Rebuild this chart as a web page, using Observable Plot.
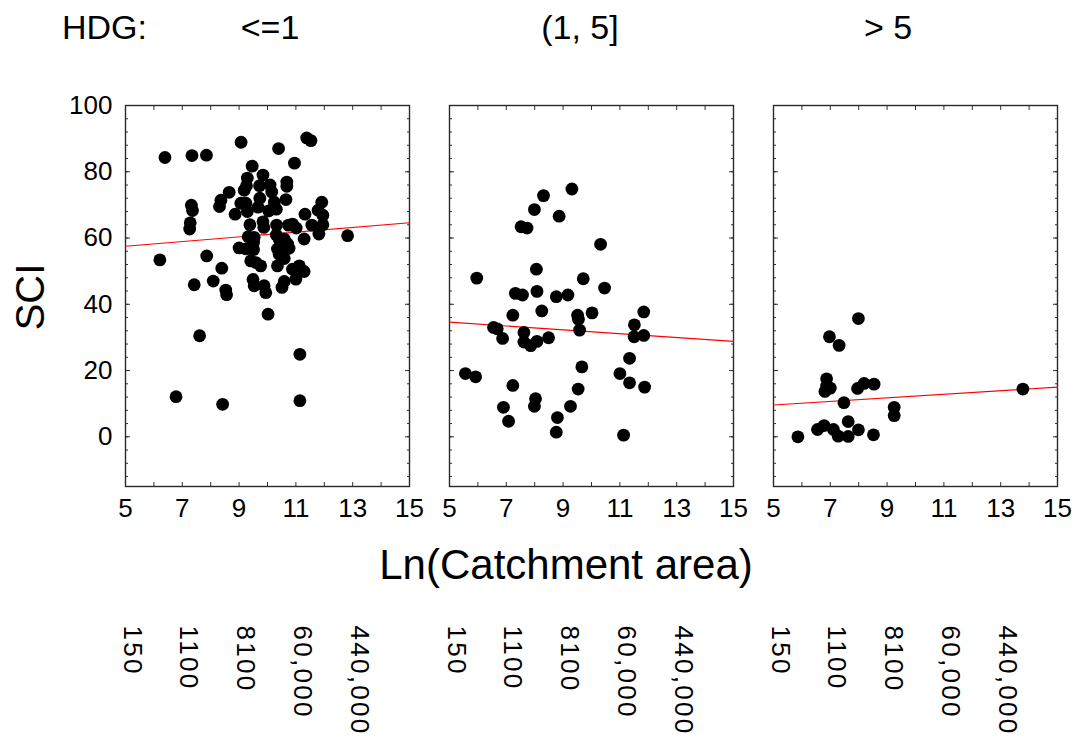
<!DOCTYPE html>
<html><head><meta charset="utf-8">
<script src="https://cdn.jsdelivr.net/npm/d3@7"></script>
<script src="https://cdn.jsdelivr.net/npm/@observablehq/plot@0.6"></script>
<style>body{margin:0;background:#fff;} #chart{width:1077px;height:742px;}</style>
</head><body><div id="chart"></div>
<script>
// Facet groups (HDG classes)
const groups = ["<=1", "(1, 5]", "> 5"];

// Panel 1: HDG <= 1
const hdg1X = [6.39,7.34,7.85,9.07,10.39,11.38,11.53,10.95,9.46,9.84,9.29,9.26,9.18,9.72,10.09,10.15,10.68,10.68,8.65,8.36,8.31,7.32,7.36,7.28,7.26,9.06,9.24,9.29,9.73,9.67,10.24,10.31,10.04,10.65,8.86,9.38,9.84,9.87,10.32,10.74,10.88,11.01,11.32,11.56,11.78,11.95,11.91,11.95,11.81,12.82,11.29,9.32,9.53,9.51,9.0,9.24,9.51,10.31,10.42,10.59,10.71,10.53,10.49,10.35,10.59,10.76,10.41,10.59,6.21,7.86,9.41,9.59,9.76,8.39,10.35,10.88,11.12,11.29,11.0,10.59,10.51,8.09,7.42,8.53,8.56,9.49,9.53,9.88,9.94,10.02,7.61,11.14,6.78,8.42,11.14];
const hdg1Y = [84.3,84.9,85.0,88.9,87.0,90.2,89.4,82.6,81.7,79.0,78.1,75.8,74.4,75.8,76.0,73.9,76.9,75.6,73.8,71.4,69.5,69.9,68.3,64.6,62.7,70.5,70.5,68.0,72.0,69.3,70.8,68.7,68.2,71.6,67.2,64.0,64.9,63.2,63.9,63.9,64.2,63.0,67.2,63.9,68.4,66.9,70.8,64.0,61.2,60.7,59.7,60.4,60.2,58.7,57.0,56.7,56.5,60.9,59.4,59.7,58.2,57.7,58.7,56.7,56.1,56.9,55.1,53.8,53.4,54.6,53.1,52.6,51.6,50.9,51.6,50.6,51.6,49.9,47.6,46.9,45.1,47.0,45.9,44.3,42.9,47.5,45.6,45.6,43.5,37.0,30.5,24.9,12.1,9.8,10.9];

// Panel 2: HDG in (1, 5]
const hdg2X = [9.31,8.31,7.99,8.86,7.52,7.73,10.32,8.06,5.96,9.71,10.46,7.32,7.57,8.08,8.76,9.17,8.25,7.23,9.51,9.54,10.02,11.84,11.51,6.55,6.68,6.87,7.62,7.62,7.86,8.08,8.49,9.58,11.50,11.84,11.34,9.66,5.56,5.92,11.0,11.34,11.87,7.23,9.53,8.03,7.99,6.90,7.08,9.26,8.80,8.76,11.13];
const hdg2Y = [74.8,72.8,68.6,66.6,63.4,63.0,58.1,50.6,47.9,47.7,44.9,43.3,42.8,43.9,42.3,42.8,38.0,36.7,36.7,35.5,37.4,37.7,33.8,33.0,32.6,29.7,31.5,28.6,27.5,28.8,29.9,32.2,30.2,30.6,23.7,21.1,19.1,18.1,19.1,16.3,15.0,15.5,14.4,11.5,9.2,8.9,4.7,9.2,5.8,1.4,0.5];

// Panel 3: HDG > 5
const hdg3X = [7.99,6.97,7.31,6.87,6.87,7.0,6.81,7.96,8.19,8.54,13.78,7.48,9.25,9.25,7.63,6.55,6.78,7.11,7.28,7.63,7.99,8.52,5.86];
const hdg3Y = [35.7,30.2,27.6,17.5,15.3,14.7,13.7,14.6,16.1,15.9,14.4,10.3,8.9,6.4,4.6,2.2,3.4,2.2,0.2,0.1,2.1,0.6,0.0];

// Fitted regression lines per panel: SCI = intercept + slope * ln(area)
const fitIntercept = [53.95, 37.5, 6.9];
const fitSlope = [0.71, -0.58, 0.54];

// Axes
const xDomain = [5, 15];
const yDomain = [-15, 100];
const xTickLabels = [5, 7, 9, 11, 13, 15];
const yTickLabels = [0, 20, 40, 60, 80, 100];
const areaTicks = [5, 7, 9, 11, 13];
const areaLabels = ["150", "1100", "8100", "60,000", "440,000"];

const points = [];
[[hdg1X, hdg1Y], [hdg2X, hdg2Y], [hdg3X, hdg3Y]].forEach(([xs, ys], i) =>
  xs.forEach((x, j) => points.push({group: groups[i], x, y: ys[j]})));
const fits = groups.flatMap((g, i) => xDomain.map(x => ({group: g, x, y: fitIntercept[i] + fitSlope[i] * x})));

const font = "'Liberation Sans', Arial, sans-serif";
const minorY = d3.range(-12, 101, 4);
const minorX = d3.range(5, 16, 1);

const svg = Plot.plot({
  width: 1077, height: 742,
  marginLeft: 125, marginRight: 20, marginTop: 105, marginBottom: 256,
  style: {fontFamily: font, color: "#000", background: "#fff", overflow: "visible"},
  fx: {domain: groups, axis: null, paddingInner: 0.1235, paddingOuter: 0},
  x: {domain: xDomain},
  y: {domain: yDomain},
  marks: [
    Plot.axisY({anchor: "left", ticks: yTickLabels, tickSize: 0, tickPadding: 13, fontSize: 26, label: null}),
    Plot.axisX({anchor: "bottom", ticks: xTickLabels, tickSize: 0, tickPadding: 12, fontSize: 26, label: null}),
    Plot.axisY({anchor: "left", facetAnchor: null, ticks: minorY, tickSize: -3, fill: "none", label: null, stroke: "#333"}),
    Plot.axisY({anchor: "left", facetAnchor: null, ticks: yTickLabels, tickSize: -5, fill: "none", label: null, stroke: "#333"}),
    Plot.axisY({anchor: "right", facetAnchor: null, ticks: minorY, tickSize: -3, fill: "none", label: null, stroke: "#333"}),
    Plot.axisY({anchor: "right", facetAnchor: null, ticks: yTickLabels, tickSize: -5, fill: "none", label: null, stroke: "#333"}),
    Plot.axisX({anchor: "bottom", facetAnchor: null, ticks: minorX, tickSize: -4, fill: "none", label: null, stroke: "#333"}),
    Plot.axisX({anchor: "top", facetAnchor: null, ticks: minorX, tickSize: -4, fill: "none", label: null, stroke: "#333"}),
    Plot.frame({stroke: "#2a2a2a", strokeWidth: 1.4}),
    Plot.line(fits, {x: "x", y: "y", fx: "group", z: "group", stroke: "#ff0000", strokeWidth: 1.1}),
    Plot.dot(points, {x: "x", y: "y", fx: "group", r: 6.4, fill: "#000", stroke: null}),
    Plot.text(areaTicks, {x: d => d, text: (d, i) => areaLabels[i], frameAnchor: "bottom", dy: 139, dx: -2,
      rotate: 90, textAnchor: "start", fontSize: 26, fill: "#000"})
  ]
});

const s = d3.select(svg);
// widen the rotated catchment-area labels to match the reference glyph spacing
s.selectAll("text").filter(function() { return areaLabels.includes(this.textContent); })
  .style("letter-spacing", "2.3px");

const addText = (txt, x, y, size, anchor, rot) => {
  const t = s.append("text").text(txt).attr("font-family", font).attr("font-size", size)
    .attr("text-anchor", anchor).attr("fill", "#000");
  if (rot) t.attr("transform", `translate(${x},${y}) rotate(${rot})`);
  else t.attr("x", x).attr("y", y);
};
addText("HDG:", 62, 39, 34, "start");
addText(groups[0], 270, 39, 34, "middle");
addText(groups[1], 580, 39, 34, "middle");
addText(groups[2], 888, 39, 34, "middle");
addText("SCI", 44, 297, 40, "middle", -90);
addText("Ln(Catchment area)", 566, 579, 42, "middle");

document.getElementById("chart").appendChild(svg);
</script>
</body></html>
